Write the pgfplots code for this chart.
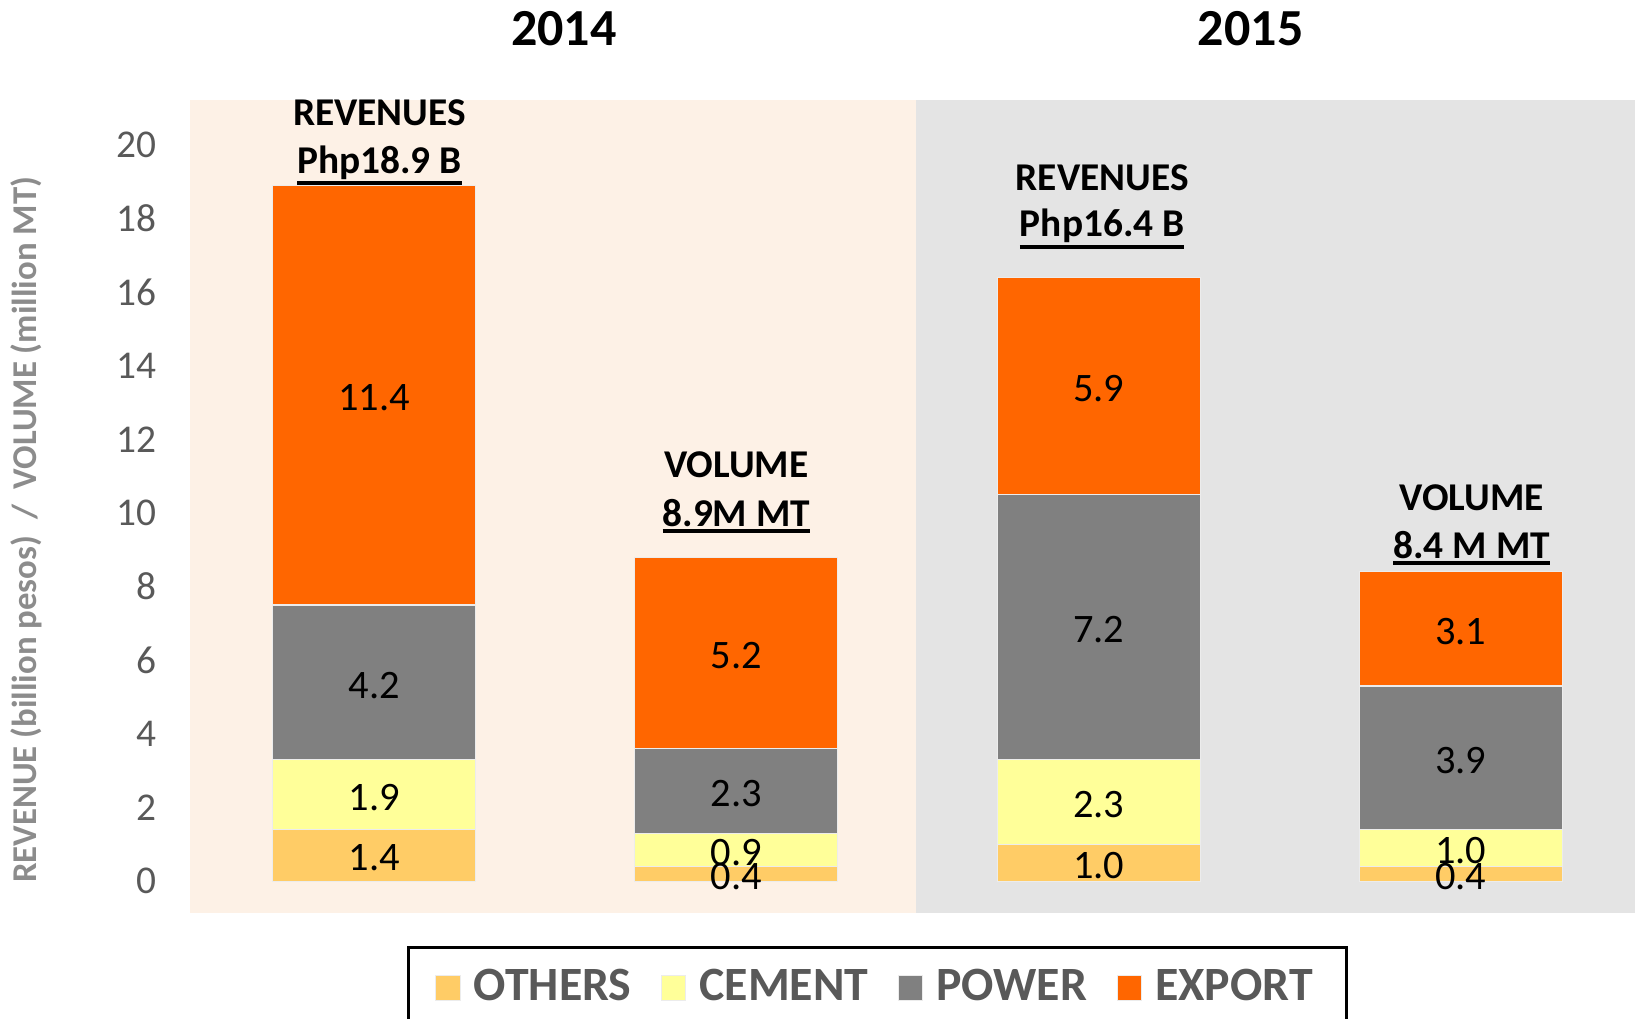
\documentclass[border=0pt]{standalone}
\usepackage{pgfplots}
\usepackage{pgfplotstable}
\pgfplotsset{compat=1.18}
\usepackage{fontspec}
\setmainfont{Carlito}
\definecolor{cOthers}{HTML}{FFCC66}
\definecolor{cCement}{HTML}{FFFF99}
\definecolor{cPower}{HTML}{808080}
\definecolor{cExport}{HTML}{FF6600}
\definecolor{bgA}{HTML}{FDF1E6}
\definecolor{bgB}{HTML}{E4E4E4}
\definecolor{tickgray}{HTML}{595959}
\definecolor{labgray}{HTML}{8C8C8C}
\newcommand\ul[1]{\leavevmode\vtop{\hbox{#1}\kern0.6pt\hrule height 1pt}}
\pgfplotstableread{
x y
0 1.4
1 0.4
2 1.0
3 0.4
}\others
\pgfplotstableread{
x y
0 1.9
1 0.9
2 2.3
3 1.0
}\cement
\pgfplotstableread{
x y
0 4.2
1 2.3
2 7.2
3 3.9
}\power
\pgfplotstableread{
x y
0 11.4
1 5.2
2 5.9
3 3.1
}\export
\begin{document}
\begin{tikzpicture}
\useasboundingbox (-18.98mm,-10.46mm) rectangle (144.52mm,91.34mm);
\fill[bgA] (0,0) rectangle (72.66mm,81.33mm);
\fill[bgB] (72.66mm,0) rectangle (144.52mm,81.33mm);
\begin{axis}[
  at={(0,0)}, anchor=south west,
  scale only axis, width=144.52mm, height=81.33mm,
  xmin=-0.509, xmax=3.481, ymin=-0.88, ymax=21.22,
  axis line style={draw=none},
  clip=false,
  ybar stacked, bar width=20.3mm,
  xtick=\empty,
  ytick={0,2,...,20},
  major tick length=0pt,
  /pgf/number format/assume math mode=true,
  yticklabel style={font=\fontsize{11.2}{12}\selectfont, text=tickgray, inner sep=0pt, xshift=-3.3mm},
  ylabel={REVENUE (billion pesos)\ \ /\ \ VOLUME (million MT)},
  every axis y label/.style={at={(axis description cs:-0.1128,0.4714)}, rotate=90, anchor=center, font=\bfseries\fontsize{9.9}{11}\selectfont, text=labgray},
  nodes near coords={\pgfmathprintnumber[fixed,fixed zerofill,precision=1]{\rawy}},
  visualization depends on={\thisrow{y} \as \rawy},
  every node near coord/.append style={anchor=center, yshift=-0.8pt, font=\fontsize{11.5}{12}\selectfont, text=black},
  legend columns=4,
  legend image code/.code={\fill[#1] (0mm,-1.25mm) rectangle (2.45mm,1.25mm);},
  legend style={at={(axis description cs:0.4759,-0.0401)}, anchor=north, draw=black, line width=0.8pt,
    font=\bfseries\fontsize{13.6}{14}\selectfont, text=tickgray, inner xsep=2.7mm, inner ysep=1.5mm,
    /tikz/every even column/.append style={column sep=2.25mm},
    /tikz/every odd column/.append style={column sep=0.6mm}},
]
\addplot[fill=cOthers, draw=white!85!gray, line width=0.3pt] table[x=x,y=y] {\others};
\addplot[fill=cCement, draw=white!85!gray, line width=0.3pt] table[x=x,y=y] {\cement};
\addplot[fill=cPower, draw=white!85!gray, line width=0.3pt] table[x=x,y=y] {\power};
\addplot[fill=cExport, draw=white!85!gray, line width=0.3pt] table[x=x,y=y] {\export};
\legend{OTHERS, CEMENT, POWER, EXPORT}
\node[font=\bfseries\fontsize{14.8}{16}\selectfont] at (axis cs:0.524,23.15) {2014};
\node[font=\bfseries\fontsize{14.8}{16}\selectfont] at (axis cs:2.42,23.15) {2015};
\node[font=\bfseries\fontsize{11.2}{12}\selectfont] at (axis cs:0.015,20.88) {REVENUES};
\node[font=\bfseries\fontsize{11.2}{12}\selectfont] at (axis cs:0.015,19.45) {\ul{Php18.9 B}};
\node[font=\bfseries\fontsize{11.2}{12}\selectfont] at (axis cs:1.0,11.3) {VOLUME};
\node[font=\bfseries\fontsize{11.2}{12}\selectfont] at (axis cs:1.0,9.92) {\ul{8.9M MT}};
\node[font=\bfseries\fontsize{11.2}{12}\selectfont] at (axis cs:2.01,19.12) {REVENUES};
\node[font=\bfseries\fontsize{11.2}{12}\selectfont] at (axis cs:2.01,17.72) {\ul{Php16.4 B}};
\node[font=\bfseries\fontsize{11.2}{12}\selectfont] at (axis cs:3.03,10.42) {VOLUME};
\node[font=\bfseries\fontsize{11.2}{12}\selectfont] at (axis cs:3.03,9.05) {\ul{8.4 M MT}};
\end{axis}
\end{tikzpicture}
\end{document}
